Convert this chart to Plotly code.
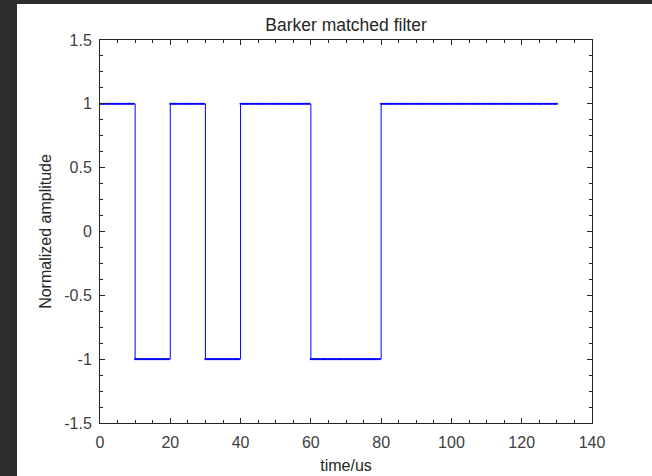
import numpy as np
import plotly.graph_objects as go

# matched filter of the 13-chip Barker code (time reversed), 10 us per chip
chip_values = [1, -1, 1, -1, 1, 1, -1, -1, 1, 1, 1, 1, 1]
chip_width_us = 10
sample_step_us = 0.5

x_ticks = [0, 20, 40, 60, 80, 100, 120, 140]
y_ticks = [-1.5, -1, -0.5, 0, 0.5, 1, 1.5]
y_tick_labels = ["-1.5", "-1", "-0.5", "0", "0.5", "1", "1.5"]

# step outline through the chip edges
edges = [i * chip_width_us for i in range(len(chip_values) + 1)]
step_y = chip_values + [chip_values[-1]]

# sampled points drawn as dots
per_chip = int(chip_width_us / sample_step_us)
t = np.arange(len(chip_values) * per_chip + 1) * sample_step_us
s = np.append(np.repeat(chip_values, per_chip), chip_values[-1])

FONT = 'Liberation Sans, Arial, Helvetica'

fig = go.Figure()
fig.add_trace(go.Scatter(
    x=edges, y=step_y, mode='lines', line_shape='hv',
    line=dict(color='#0000ff', width=1), hoverinfo='skip', showlegend=False
))
fig.add_trace(go.Scatter(
    x=t, y=s, mode='markers',
    marker=dict(color='#0000ff', size=2.2), showlegend=False
))

axis_common = dict(
    showgrid=False, zeroline=False, showline=True, linecolor='#262626', linewidth=1,
    mirror='ticks', ticks='inside', ticklen=5, tickcolor='#262626', automargin=False,
    tickfont=dict(family=FONT, size=16, color='#404040'),
)

fig.update_xaxes(
    range=[0, 140], tickvals=x_ticks, **axis_common, ticklabelstandoff=5,
    minor=dict(dtick=5, ticks='inside', ticklen=3, tickcolor='#262626'),
    title=dict(text='time/us', standoff=9,
               font=dict(family=FONT, size=16, color='#262626')),
)
fig.update_yaxes(
    range=[-1.5, 1.5], tickvals=y_ticks, ticktext=y_tick_labels, **axis_common,
    ticklabelstandoff=4,
    minor=dict(dtick=0.125, ticks='inside', ticklen=3, tickcolor='#262626'),
    title=dict(text='Normalized amplitude', standoff=8,
               font=dict(family=FONT, size=16, color='#262626')),
)

fig.update_layout(
    width=652, height=476,
    margin=dict(l=100, r=60, t=40, b=53),
    paper_bgcolor='#2d2d2d', plot_bgcolor='white',
    title=dict(text='Barker matched filter', x=0.5, xref='paper', xanchor='center',
               y=1 - 25 / 476, yanchor='middle',
               font=dict(family=FONT, size=17.5, color='#262626')),
    shapes=[dict(type='rect', xref='paper', yref='paper', x0=-83 / 492, x1=1.2,
                 y0=-0.2, y1=1 + 36 / 383, fillcolor='white', line=dict(width=0),
                 layer='below')],
)

fig.write_html("out.html", config={'displayModeBar': False},
               post_script="document.body.style.margin='0px';"
                           "document.body.style.background='#2d2d2d';")
